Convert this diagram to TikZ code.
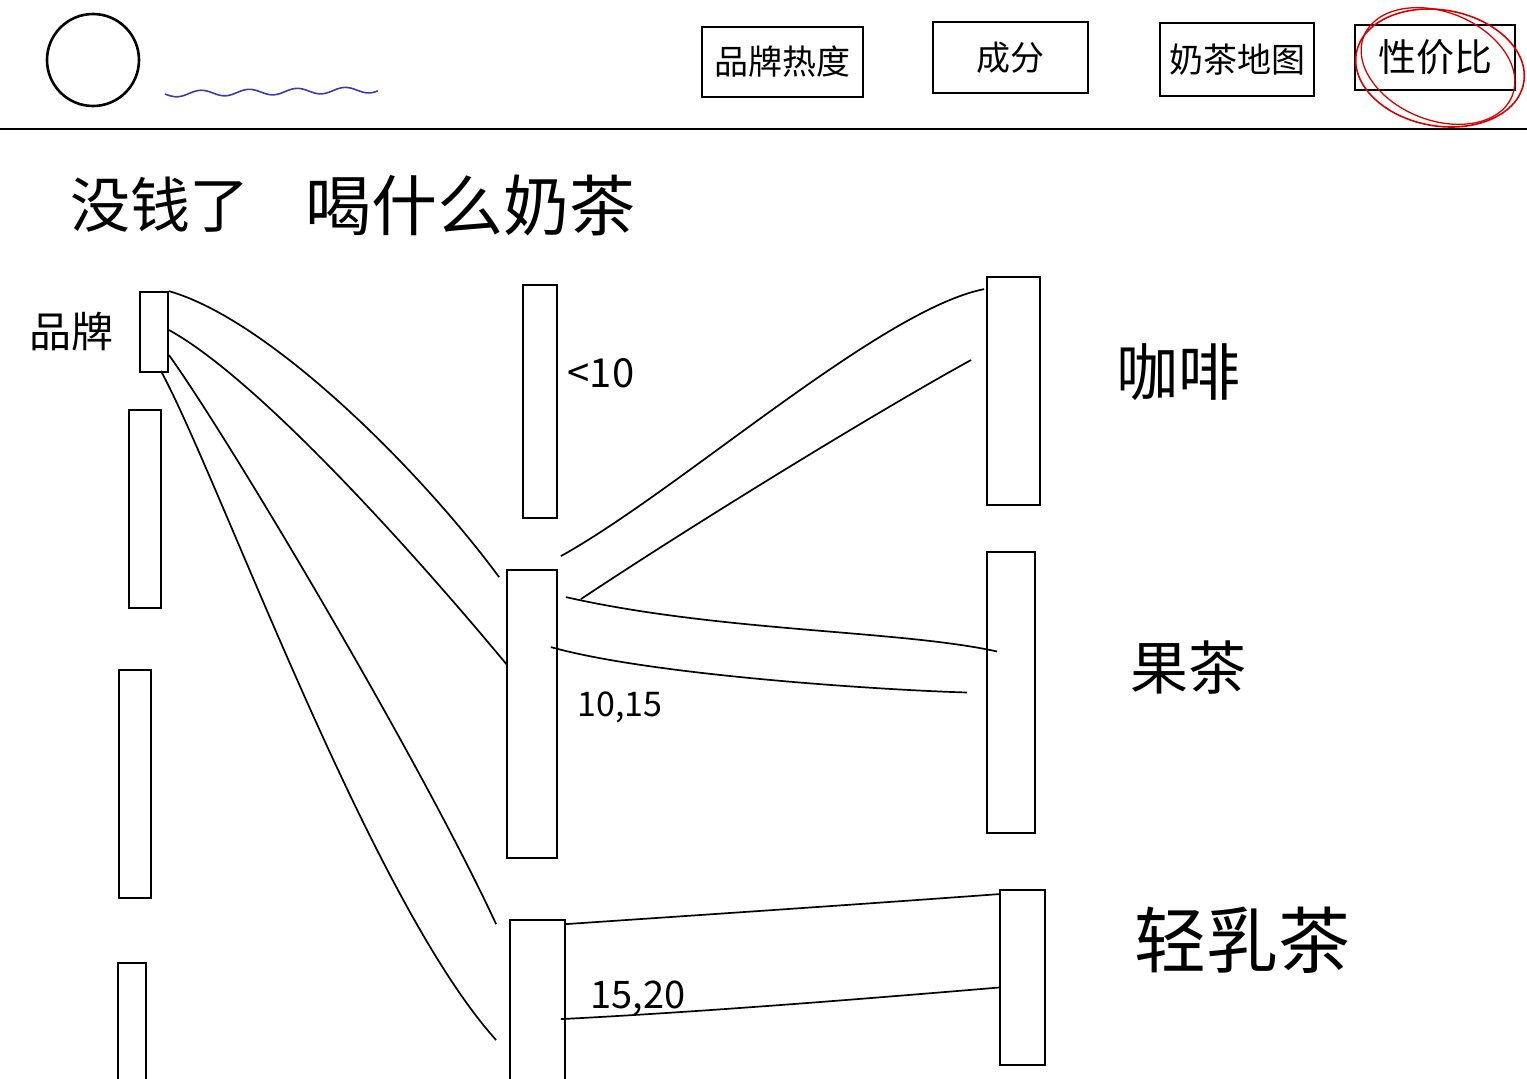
\documentclass[tikz,border=0pt]{standalone}
\usepackage{fontspec}
\newfontfamily\cjk{Noto Sans CJK SC}
\usetikzlibrary{calc}
\tikzset{
  bar/.style={draw, line width=1.8pt, inner sep=0pt},
  btn/.style={draw, line width=2.4pt, inner sep=0pt, font=\cjk\fontsize{34}{34}\selectfont},
  lbl/.style={inner sep=0pt, font=\cjk\fontsize{#1}{#1}\selectfont},
  conn/.style={line width=1.7pt},
}
\begin{document}
\begin{tikzpicture}[x=1pt,y=-1pt]
\clip (0,0) rectangle (1527,1079);
\fill[white] (0,0) rectangle (1527,1079);

% header
\node[draw, circle, line width=2.6pt, minimum size=92pt, inner sep=0pt] (logo) at (93,60) {};
\draw[line width=1.6pt, color={rgb,255:red,60;green,60;blue,175}]
  plot[domain=165:378, samples=120, smooth] (\x, {94 - 0.02*(\x-165) + 3*sin((\x-165)*7.5)});
\node[btn, minimum width=161pt, minimum height=70pt] (b1) at (782.5,62) {品牌热度};
\node[btn, minimum width=155pt, minimum height=71pt] (b2) at (1010.5,57.5) {成分};
\node[btn, minimum width=154pt, minimum height=73pt] (b3) at (1237,59.5) {奶茶地图};
\node[btn, minimum width=160pt, minimum height=65pt, font=\cjk\fontsize{38}{38}\selectfont] (b4) at (1435,57.5) {性价比};
\draw[red!85!black, line width=1.6pt, rotate around={-10:(1440,68)}] (1440,68) ellipse [x radius=85, y radius=58];
\draw[red!85!black, line width=1.3pt, rotate around={-22:(1438,66)}] (1438,66) ellipse [x radius=80, y radius=54];
\draw[line width=2.4pt] (0,129) -- (1527,129);

% title
\node[lbl=60] (t1) at (160,205) {没钱了};
\node[lbl=66] (t2) at (470,205) {喝什么奶茶};

% left column
\node[lbl=42] (tbrand) at (72,332) {品牌};
\node[bar, minimum width=28pt, minimum height=80pt] (L0) at (154,332) {};
\node[bar, minimum width=32pt, minimum height=198pt] (L1) at (145,509) {};
\node[bar, minimum width=32pt, minimum height=228pt] (L2) at (135,784) {};
\node[bar, minimum width=28pt, minimum height=170pt] (L3) at (132,1048) {};

% middle column
\node[bar, minimum width=34pt, minimum height=233pt] (M0) at (540,401.5) {};
\node[bar, minimum width=50pt, minimum height=288pt] (M1) at (532,714) {};
\node[bar, minimum width=55pt, minimum height=180pt] (M2) at (537.5,1010) {};
\node[lbl=40] (p1) at (601,373) {<10};
\node[lbl=34] (p2) at (620,707) {10,15};
\node[lbl=38] (p3) at (638,998) {15,20};

% right column
\node[bar, minimum width=53pt, minimum height=228pt] (R0) at (1013.5,391) {};
\node[bar, minimum width=48pt, minimum height=281pt] (R1) at (1011,692.5) {};
\node[bar, minimum width=45pt, minimum height=175pt] (R2) at (1022.5,977.5) {};
\node[lbl=62] (c1) at (1178,372) {咖啡};
\node[lbl=58] (c2) at (1188,668) {果茶};
\node[lbl=72] (c3) at (1242,940) {轻乳茶};

% connectors brand -> price
\draw[conn] (L0.north east) .. controls (270,320) and (420,470) .. ($(M1.north west)+(-7,8)$);
\draw[conn] ($(L0.east)+(0,-2)$) .. controls (260,380) and (420,560) .. ($(M1.west)+(1,-49)$);
\draw[conn] ($(L0.east)+(0,23)$) .. controls (230,440) and (420,760) .. ($(M2.north west)+(-13,5)$);
\draw[conn] ($(L0.south east)+(-8,-2)$) .. controls (220,480) and (370,900) .. ($(M2.west)+(-13,30)$);

% connectors price -> category
\draw[conn] ($(M1.north east)+(3,-13)$) .. controls (680,490) and (880,310) .. ($(R0.north west)+(-2,13)$);
\draw[conn] ($(M1.north east)+(23,30)$) .. controls (700,520) and (880,410) .. ($(R0.west)+(-15,-31)$);
\draw[conn] ($(M1.north east)+(8,28)$) .. controls (720,632) and (900,630) .. ($(R1.west)+(11,-41)$);
\draw[conn] ($(M1.north east)+(-7,78)$) .. controls (650,675) and (880,690) .. ($(R1.west)+(-19,0)$);
\draw[conn] ($(M2.north east)+(0,5)$) .. controls (700,915) and (850,905) .. ($(R2.north west)+(0,5)$);
\draw[conn] ($(M2.north east)+(-5,100)$) .. controls (700,1012) and (850,1000) .. ($(R2.west)+(0,10)$);
\end{tikzpicture}
\end{document}
